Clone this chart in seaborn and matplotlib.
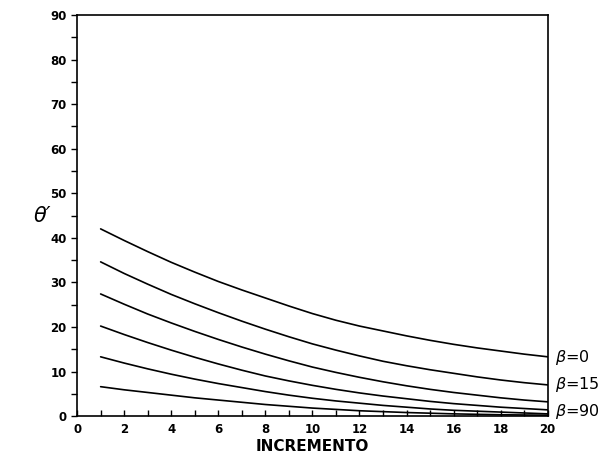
import matplotlib
matplotlib.use("Agg")
import matplotlib.pyplot as plt
import seaborn as sns
import pandas as pd
from matplotlib.ticker import MultipleLocator

x_vals = list(range(1, 21))
curve_1 = [42.0, 39.4, 36.9, 34.5, 32.3, 30.2, 28.3, 26.5, 24.7, 23.0, 21.5, 20.2, 19.1, 18.0, 17.0, 16.1, 15.3, 14.6, 13.9, 13.3]
curve_2 = [34.6, 32.0, 29.6, 27.3, 25.2, 23.2, 21.3, 19.5, 17.8, 16.2, 14.8, 13.5, 12.3, 11.3, 10.4, 9.6, 8.8, 8.1, 7.5, 7.0]
curve_3 = [27.4, 25.1, 22.9, 20.9, 19.0, 17.2, 15.5, 13.9, 12.4, 11.0, 9.8, 8.7, 7.7, 6.8, 6.0, 5.3, 4.7, 4.1, 3.6, 3.2]
curve_4 = [20.2, 18.3, 16.5, 14.8, 13.2, 11.7, 10.3, 9.0, 7.9, 6.9, 6.0, 5.2, 4.5, 3.9, 3.3, 2.8, 2.4, 2.0, 1.7, 1.4]
curve_5 = [13.3, 11.9, 10.6, 9.4, 8.3, 7.3, 6.4, 5.5, 4.7, 4.0, 3.4, 2.9, 2.4, 2.0, 1.6, 1.3, 1.1, 0.9, 0.7, 0.5]
curve_6 = [6.6, 5.9, 5.3, 4.7, 4.1, 3.6, 3.1, 2.6, 2.2, 1.8, 1.5, 1.2, 1.0, 0.8, 0.65, 0.5, 0.4, 0.3, 0.25, 0.2]
curve_names = ["c1", "c2", "c3", "c4", "c5", "c6"]
right_labels = [r"$\beta$=0", r"$\beta$=15", r"$\beta$=90"]
right_label_y = [13.2, 7.1, 1.0]
x_ticks = list(range(0, 21, 2))
y_ticks = list(range(0, 91, 10))

curves = [curve_1, curve_2, curve_3, curve_4, curve_5, curve_6]
df = pd.DataFrame({
    "x": x_vals * len(curves),
    "y": sum(curves, []),
    "c": sum([[n] * len(x_vals) for n in curve_names], []),
})

sns.set_style("ticks")
plt.rcParams["font.family"] = ["DejaVu Sans"]
plt.rcParams["text.color"] = "black"
plt.rcParams["axes.labelcolor"] = "black"
plt.rcParams["xtick.color"] = "black"
plt.rcParams["ytick.color"] = "black"

fig = plt.figure(figsize=(6.12, 4.67), dpi=100)
ax = fig.add_axes([0.126, 0.109, 0.769, 0.859])
sns.lineplot(data=df, x="x", y="y", units="c", estimator=None,
             color="black", linewidth=1.2, ax=ax, legend=False)

ax.set_xlim(0, 20)
ax.set_ylim(0, 90)
ax.set_xticks(x_ticks)
ax.set_yticks(y_ticks)
ax.xaxis.set_minor_locator(MultipleLocator(1))
ax.yaxis.set_minor_locator(MultipleLocator(5))
ax.tick_params(axis="x", which="both", direction="in", length=4, width=1.0,
               labelsize=8.5, pad=5, colors="black")
ax.tick_params(axis="y", which="both", direction="out", length=4, width=1.0,
               labelsize=8.5, colors="black")
for lab in ax.get_xticklabels() + ax.get_yticklabels():
    lab.set_fontweight("bold")
for s in ax.spines.values():
    s.set_visible(True)
    s.set_color("black")
    s.set_linewidth(1.2)

ax.set_xlabel("INCREMENTO", fontsize=11, fontweight="bold", labelpad=2, color="black")
ax.set_ylabel("θ′", fontsize=15, style="italic", rotation=0, labelpad=6,
              va="center", color="black")

for lab, yv in zip(right_labels, right_label_y):
    ax.text(20.3, yv, lab, fontsize=11.5, va="center", ha="left",
            color="black", clip_on=False)

fig.savefig("out.png", dpi=100)
